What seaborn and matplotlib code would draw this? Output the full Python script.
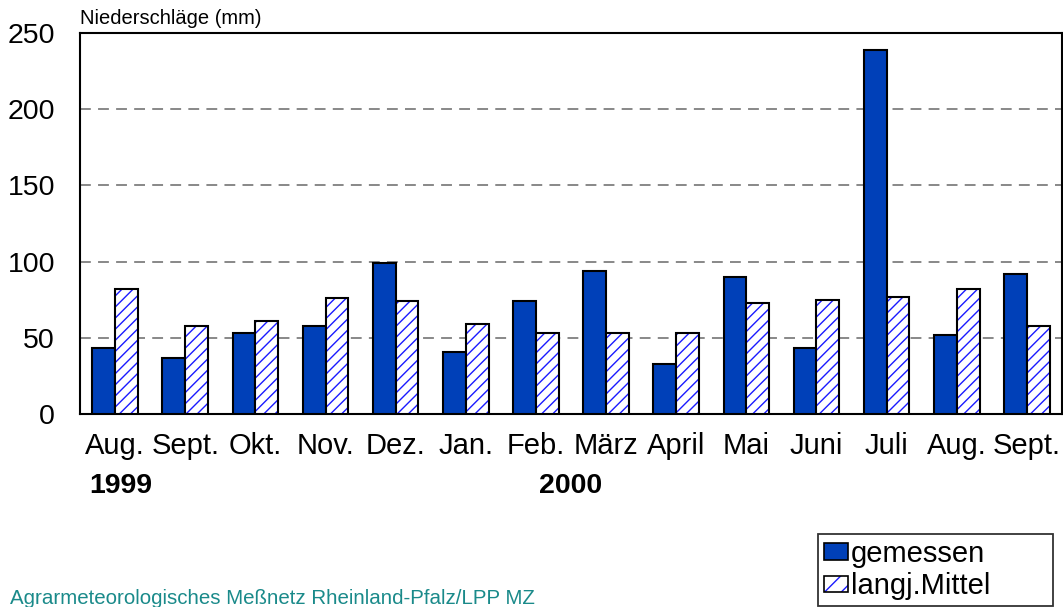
import matplotlib
matplotlib.use("Agg")
import matplotlib.pyplot as plt
import matplotlib.colors as mcolors
from matplotlib.patches import Patch
import seaborn as sns
import pandas as pd

months = ["Aug.", "Sept.", "Okt.", "Nov.", "Dez.", "Jan.", "Feb.", "März",
          "April", "Mai", "Juni", "Juli", "Aug.", "Sept."]
gemessen = [43, 37, 53, 58, 99, 41, 74, 94, 33, 90, 43, 239, 52, 92]
mittel = [82, 58, 61, 76, 74, 59, 53, 53, 53, 73, 75, 77, 82, 58]
series = ["gemessen", "langj.Mittel"]
yticks = [0, 50, 100, 150, 200, 250]

sns.set_theme(style="white")
plt.rcParams['font.family'] = ['Liberation Sans', 'DejaVu Sans']
plt.rcParams['hatch.linewidth'] = 1.0
plt.rcParams['text.color'] = 'black'

slots = [f"{i}" for i in range(len(months))]
df = pd.DataFrame({
    "slot": slots * 2,
    "value": gemessen + mittel,
    "series": [series[0]] * len(months) + [series[1]] * len(months),
})

blue = "#0040B8"
hatch_blue = "#1a1aff"

fig = plt.figure(figsize=(10.63, 6.07), dpi=100)
ax = fig.add_axes([80/1063, 1 - 414/607, 982/1063, 381/607])

sns.barplot(data=df, x="slot", y="value", hue="series", order=slots,
            hue_order=series, palette=[blue, "white"], width=0.65,
            edgecolor="black", linewidth=1.5, saturation=1, ax=ax, legend=False,
            zorder=3)

for p in ax.containers[1]:
    p.set_hatch("///")
    p._hatch_color = mcolors.to_rgba(hatch_blue)

ax.set_ylim(0, 250)
ax.set_xlim(-0.5, len(months) - 0.5)
ax.set_yticks(yticks)
ax.set_yticklabels([str(v) for v in yticks])
ax.set_xticks(range(len(months)))
ax.set_xticklabels(months)
ax.tick_params(axis="both", length=0, colors="black", labelcolor="black")
ax.tick_params(axis="x", pad=13, labelsize=21)
ax.tick_params(axis="y", pad=18, labelsize=20.5)
ax.set_xlabel("")
ax.set_ylabel("")

for v in yticks[1:-1]:
    ax.axhline(v, color="#7f7f7f", linestyle=(0, (6, 4)), linewidth=1.3, zorder=1)

for s in ax.spines.values():
    s.set_color("black")
    s.set_linewidth(1.5)
    s.set_visible(True)

ax.text(0.08, -0.188, "1999", transform=ax.get_xaxis_transform(), ha="center",
        va="center", fontsize=20.5, fontweight="bold", color="black")
ax.text(6.5, -0.188, "2000", transform=ax.get_xaxis_transform(), ha="center",
        va="center", fontsize=20.5, fontweight="bold", color="black")

fig.text(80/1063, 1 - 18/607, "Niederschläge (mm)", ha="left", va="center",
         fontsize=14.5, color="black")
fig.text(10/1063, 1 - 598/607, "Agrarmeteorologisches Meßnetz Rheinland-Pfalz/LPP MZ",
         ha="left", va="center", fontsize=14.8, color="#1a8a8a")

h1 = Patch(facecolor=blue, edgecolor="black", linewidth=1.2)
h2 = Patch(facecolor="white", edgecolor="black", linewidth=1.2, hatch="//")
leg = fig.legend([h1, h2], series, loc="lower left", mode="expand",
                 bbox_to_anchor=(818/1063, 1 - 606/607, 235/1063, 78/607),
                 fontsize=21, frameon=True, fancybox=False,
                 handlelength=0.82, handleheight=0.48,
                 handletextpad=0.1, borderpad=0.2, labelspacing=0.15,
                 borderaxespad=0)
leg.get_frame().set_edgecolor("black")
leg.get_frame().set_linewidth(1.3)
for t in leg.get_texts():
    t.set_color("black")
for p in leg.get_patches():
    if p.get_hatch():
        p._hatch_color = mcolors.to_rgba(hatch_blue)

fig.savefig("out.png", dpi=100)
